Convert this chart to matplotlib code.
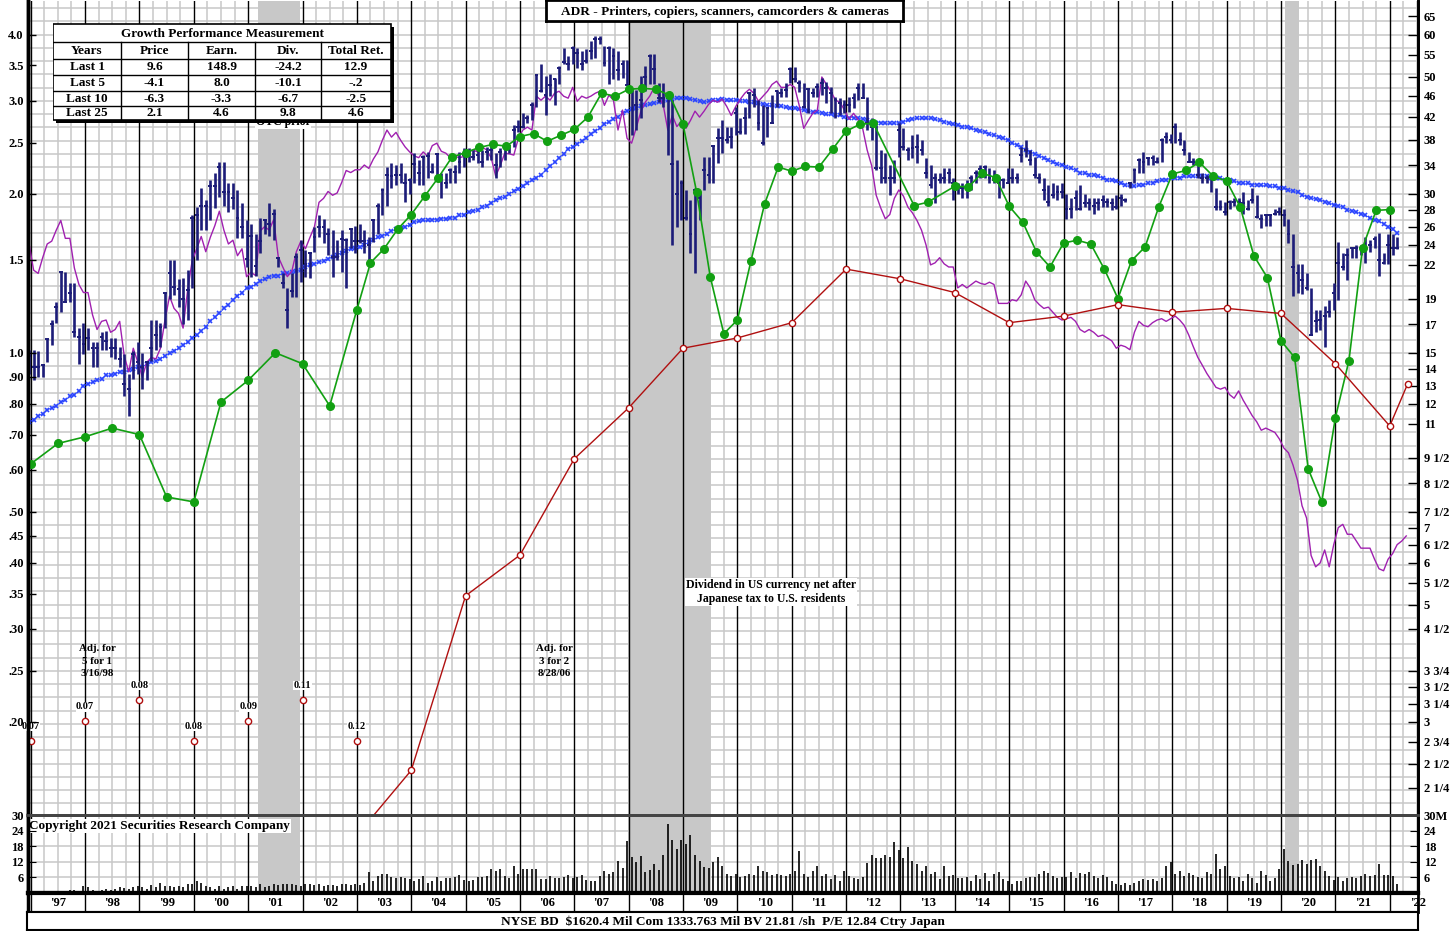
import numpy as np
import matplotlib.pyplot as plt
from matplotlib.patches import Rectangle

plt.rcParams['font.family'] = ['Liberation Serif', 'DejaVu Serif']
plt.rcParams['font.weight'] = 'bold'

# ---------------- data (monthly series start Jan 1997) ----------------
price_high = [
    15.2, 15.2, 15.1, 14.3, 15.9, 17.3, 18.7, 21.3, 21.3, 20.3, 20.3, 16.7,
    17.1, 16.7, 15.7, 15.7, 16.4, 16.5, 16.0, 16.0, 15.4, 14.9, 13.7, 15.1,
    15.7, 15.0, 14.5, 17.3, 17.3, 17.1, 19.5, 22.5, 22.5, 20.7, 20.8, 21.5,
    27.3, 28.3, 30.8, 29.2, 31.8, 32.9, 34.4, 34.4, 31.5, 31.4, 30.5, 28.8,
    26.7, 26.3, 25.2, 27.0, 26.9, 28.8, 28.1, 22.8, 21.2, 19.9, 21.2, 23.2,
    24.5, 23.5, 23.3, 25.9, 27.3, 26.9, 25.8, 25.6, 24.5, 25.6, 24.7, 25.8,
    26.1, 26.3, 25.6, 24.8, 26.9, 28.8, 30.7, 33.7, 34.3, 34.0, 34.3, 32.8,
    32.1, 35.8, 34.7, 35.5, 36.0, 34.3, 35.8, 32.9, 32.8, 33.5, 34.0, 36.0,
    36.6, 36.6, 36.3, 36.8, 36.3, 36.8, 37.1, 35.8, 36.6, 36.8, 37.1, 40.4,
    41.3, 42.6, 42.2, 44.7, 50.6, 52.9, 50.1, 50.5, 49.6, 52.3, 56.6, 54.7,
    57.1, 56.6, 56.0, 56.4, 58.4, 59.7, 59.7, 57.1, 57.1, 56.6, 56.0, 53.7,
    53.7, 47.1, 47.1, 50.1, 52.3, 55.1, 55.1, 48.6, 48.6, 45.3, 45.1, 34.7,
    31.8, 30.5, 29.2, 30.8, 30.2, 35.2, 35.2, 37.1, 39.9, 41.3, 40.1, 40.1,
    43.7, 41.8, 43.7, 46.5, 47.5, 45.1, 44.1, 43.7, 46.1, 47.1, 47.5, 48.6,
    52.1, 52.1, 49.2, 48.6, 47.5, 47.5, 48.6, 49.6, 48.8, 47.7, 45.7, 45.5,
    45.1, 45.7, 46.5, 48.6, 48.6, 45.7, 41.8, 40.4, 36.3, 35.8, 34.0, 34.7,
    40.8, 39.9, 36.8, 38.7, 39.0, 37.9, 35.1, 34.0, 32.8, 32.9, 33.5, 33.5,
    32.1, 31.4, 31.4, 31.8, 32.5, 33.2, 34.0, 34.0, 33.5, 33.2, 32.2, 32.2,
    33.5, 33.5, 32.8, 36.8, 37.9, 36.3, 35.2, 32.8, 32.2, 31.1, 31.4, 31.1,
    31.5, 30.0, 29.5, 30.5, 31.1, 30.0, 29.5, 29.5, 29.4, 29.8, 29.5, 29.4,
    29.8, 30.0, 29.5, 31.5, 33.5, 35.1, 36.0, 35.2, 35.5, 35.2, 38.2, 39.2,
    39.0, 40.8, 39.2, 37.9, 36.0, 35.1, 34.0, 32.8, 32.5, 32.5, 30.7, 29.2,
    28.9, 29.2, 29.4, 29.4, 30.2, 29.2, 30.7, 29.8, 27.5, 27.5, 27.5, 28.1,
    28.3, 28.1, 26.9, 25.2, 22.1, 22.1, 21.2, 19.9, 18.1, 18.1, 18.4, 18.9,
    20.3, 24.3, 23.2, 23.7, 23.7, 24.0, 24.0, 24.8, 24.5, 25.0, 25.3, 23.2,
    25.2, 25.2, 24.8,
]
price_low = [
    13.7, 13.3, 13.5, 13.5, 14.4, 15.5, 17.1, 17.9, 18.7, 18.7, 16.1, 14.3,
    14.9, 15.2, 14.1, 14.1, 15.2, 15.2, 14.7, 14.6, 14.1, 12.4, 11.4, 13.4,
    13.7, 12.8, 13.3, 14.5, 15.2, 15.4, 16.7, 19.0, 19.3, 18.3, 17.0, 17.3,
    19.9, 22.5, 25.6, 25.6, 26.7, 28.2, 29.6, 28.5, 27.7, 28.1, 24.7, 24.7,
    21.8, 20.9, 21.0, 23.2, 25.2, 25.0, 24.5, 21.8, 19.9, 16.7, 19.1, 19.1,
    20.4, 20.9, 20.8, 23.3, 24.8, 24.2, 23.0, 20.9, 22.5, 21.3, 19.9, 23.7,
    23.2, 24.2, 23.2, 22.5, 24.3, 25.2, 27.3, 28.5, 30.7, 31.1, 31.4, 28.9,
    30.0, 31.4, 31.1, 31.1, 32.2, 32.8, 32.2, 29.5, 30.7, 31.4, 31.5, 32.8,
    33.7, 34.4, 34.7, 34.3, 33.7, 34.7, 34.7, 32.2, 33.7, 34.7, 35.8, 36.8,
    39.2, 39.9, 40.8, 41.3, 43.7, 46.7, 42.2, 45.9, 44.1, 48.3, 52.9, 51.4,
    52.9, 51.8, 51.4, 53.1, 53.9, 54.1, 57.7, 52.3, 48.3, 49.5, 49.2, 49.6,
    48.1, 38.7, 39.6, 41.8, 46.9, 48.3, 48.4, 44.7, 43.7, 35.5, 24.0, 26.0,
    26.7, 26.7, 23.2, 21.2, 26.7, 30.5, 31.4, 31.4, 34.3, 35.8, 37.4, 36.6,
    38.7, 39.0, 39.0, 41.8, 43.7, 39.6, 37.1, 38.4, 40.9, 43.7, 45.7, 45.7,
    48.6, 48.8, 46.7, 43.6, 42.6, 45.7, 45.7, 46.1, 44.5, 42.6, 41.8, 42.2,
    42.6, 42.8, 43.6, 45.1, 45.5, 39.6, 37.9, 33.2, 31.4, 31.5, 29.8, 31.4,
    35.2, 36.3, 34.7, 35.1, 34.3, 35.5, 32.1, 30.8, 28.8, 31.4, 31.5, 31.4,
    29.2, 30.0, 29.4, 29.5, 30.5, 31.4, 32.2, 32.1, 31.4, 31.5, 29.5, 30.8,
    31.5, 31.4, 31.5, 34.4, 35.2, 34.0, 32.2, 31.5, 29.2, 28.5, 29.5, 29.2,
    29.5, 26.9, 27.0, 27.9, 27.9, 28.3, 27.9, 27.5, 27.9, 28.3, 28.3, 27.9,
    28.1, 28.5, 28.9, 30.7, 31.5, 32.9, 32.9, 34.0, 34.0, 34.3, 34.4, 37.5,
    37.4, 37.4, 37.1, 35.5, 34.4, 34.0, 32.2, 31.4, 31.4, 30.2, 27.9, 27.9,
    27.3, 28.1, 28.5, 27.9, 27.5, 27.9, 28.8, 27.0, 25.8, 26.1, 26.1, 27.3,
    27.3, 26.1, 24.2, 19.2, 19.5, 19.4, 19.7, 16.2, 16.4, 16.6, 15.4, 17.5,
    18.1, 18.9, 21.5, 20.6, 22.7, 22.7, 23.0, 22.2, 23.3, 23.7, 21.0, 22.1,
    22.1, 23.0, 23.6,
]
price_close = [
    14.8, 14.1, 14.1, 14.2, 15.9, 17.0, 18.3, 21.3, 18.7, 19.5, 16.4, 16.1,
    15.6, 16.0, 15.3, 15.3, 16.1, 15.8, 15.3, 15.3, 14.6, 13.1, 12.8, 14.9,
    14.4, 14.1, 14.4, 15.3, 16.2, 16.8, 19.5, 21.2, 20.0, 19.8, 19.0, 19.7,
    27.0, 27.3, 28.4, 28.5, 31.0, 31.0, 33.7, 30.2, 30.2, 29.5, 27.0, 25.9,
    22.6, 25.0, 21.9, 24.4, 26.7, 26.3, 27.5, 22.7, 20.3, 18.1, 19.6, 22.8,
    23.5, 22.1, 23.2, 24.8, 25.9, 25.9, 25.2, 22.8, 22.8, 24.6, 24.5, 25.7,
    24.4, 24.4, 24.4, 24.0, 26.8, 28.5, 30.5, 32.6, 32.4, 32.6, 32.6, 31.4,
    31.8, 34.2, 32.8, 35.2, 35.4, 33.0, 35.7, 32.2, 31.4, 33.2, 33.0, 34.4,
    35.5, 36.0, 35.2, 35.5, 34.4, 36.0, 36.3, 34.0, 36.0, 36.6, 36.9, 39.6,
    40.1, 40.1, 41.8, 44.1, 50.4, 46.9, 46.1, 48.1, 49.4, 51.8, 53.3, 52.9,
    56.6, 55.4, 52.9, 53.5, 56.0, 59.0, 59.0, 53.1, 56.6, 54.6, 51.4, 52.9,
    48.1, 46.7, 44.1, 45.1, 49.8, 54.6, 51.6, 45.5, 45.5, 45.5, 34.2, 30.0,
    31.5, 27.0, 25.2, 30.5, 29.5, 33.2, 32.5, 36.9, 38.2, 38.2, 37.9, 38.4,
    42.6, 39.2, 41.7, 46.5, 46.1, 40.9, 37.4, 43.6, 40.9, 46.9, 46.5, 47.1,
    51.6, 49.4, 48.6, 43.7, 47.3, 46.5, 47.7, 48.6, 47.5, 46.5, 45.1, 44.5,
    44.1, 44.1, 45.5, 47.5, 45.5, 40.9, 40.1, 33.5, 33.5, 32.1, 32.2, 32.2,
    39.6, 36.8, 36.3, 36.6, 36.8, 36.3, 32.8, 31.1, 32.1, 31.8, 32.2, 32.8,
    31.5, 31.0, 30.8, 31.0, 32.1, 32.9, 33.4, 33.7, 32.2, 31.9, 31.5, 31.8,
    31.5, 32.1, 32.1, 35.5, 36.3, 34.7, 32.5, 32.2, 30.5, 28.9, 29.8, 30.2,
    30.2, 28.1, 28.1, 29.5, 28.1, 28.8, 28.8, 28.4, 28.8, 29.2, 28.9, 28.8,
    28.3, 29.4, 29.2, 31.4, 33.2, 34.7, 34.4, 35.1, 35.1, 34.4, 37.9, 38.4,
    37.9, 40.1, 37.9, 36.3, 34.4, 34.4, 32.5, 32.2, 32.1, 32.1, 28.3, 28.3,
    27.7, 28.9, 28.9, 28.9, 28.8, 28.1, 29.2, 27.1, 26.9, 27.3, 27.3, 27.5,
    27.7, 27.3, 25.2, 21.8, 21.2, 20.6, 19.9, 16.2, 17.2, 17.3, 17.6, 17.9,
    19.5, 22.2, 21.8, 23.0, 23.7, 23.7, 23.7, 23.7, 24.0, 24.6, 22.5, 22.2,
    24.0, 23.7, 23.7,
]
moving_avg = [
    11.1, 11.2, 11.4, 11.5, 11.7, 11.8, 11.9, 12.1, 12.2, 12.4, 12.5, 12.7,
    13.0, 13.1, 13.2, 13.3, 13.4, 13.6, 13.6, 13.7, 13.8, 13.8, 13.9, 14.0,
    14.1, 14.1, 14.3, 14.4, 14.5, 14.6, 14.8, 15.0, 15.1, 15.3, 15.5, 15.7,
    16.0, 16.2, 16.5, 16.8, 17.2, 17.5, 17.8, 18.2, 18.5, 18.9, 19.2, 19.5,
    19.9, 20.0, 20.2, 20.5, 20.7, 20.9, 21.0, 21.0, 21.2, 21.2, 21.3, 21.4,
    21.5, 21.8, 22.0, 22.1, 22.3, 22.4, 22.6, 22.8, 23.0, 23.2, 23.4, 23.6,
    23.7, 23.8, 24.0, 24.3, 24.5, 24.8, 25.0, 25.2, 25.5, 25.7, 25.8, 26.0,
    26.2, 26.5, 26.6, 26.7, 26.7, 26.8, 26.8, 26.9, 26.9, 27.0, 27.0, 27.3,
    27.4, 27.7, 27.8, 28.0, 28.3, 28.5, 28.8, 29.2, 29.4, 29.6, 30.0, 30.3,
    30.6, 31.0, 31.4, 31.8, 32.2, 32.6, 33.2, 33.8, 34.4, 35.1, 35.7, 36.5,
    36.8, 37.2, 37.7, 38.2, 38.9, 39.4, 39.9, 40.6, 41.1, 41.5, 42.0, 42.6,
    43.0, 43.4, 43.6, 43.9, 44.1, 44.3, 44.5, 44.7, 44.9, 45.1, 45.3, 45.5,
    45.5, 45.5, 45.3, 45.1, 44.9, 44.7, 44.9, 45.1, 45.1, 45.3, 45.1, 45.1,
    45.1, 44.9, 44.9, 44.7, 44.7, 44.5, 44.3, 44.1, 44.1, 43.9, 43.9, 43.7,
    43.6, 43.6, 43.4, 43.2, 43.0, 42.8, 42.8, 42.6, 42.4, 42.4, 42.2, 42.2,
    42.0, 41.8, 41.8, 41.7, 41.5, 41.3, 41.1, 40.9, 40.9, 40.8, 40.8, 40.8,
    40.9, 41.1, 41.3, 41.5, 41.7, 41.7, 41.7, 41.7, 41.5, 41.3, 41.1, 40.9,
    40.6, 40.4, 40.2, 40.1, 39.9, 39.6, 39.4, 39.2, 38.9, 38.7, 38.5, 38.2,
    37.9, 37.4, 37.1, 36.8, 36.3, 36.0, 35.7, 35.4, 35.1, 34.7, 34.4, 34.1,
    34.0, 33.7, 33.5, 33.2, 32.9, 32.8, 32.6, 32.5, 32.4, 32.1, 31.9, 31.8,
    31.7, 31.4, 31.2, 31.1, 31.0, 31.1, 31.2, 31.4, 31.5, 31.7, 31.8, 31.9,
    32.1, 32.2, 32.2, 32.4, 32.4, 32.4, 32.4, 32.4, 32.4, 32.2, 32.2, 32.1,
    31.9, 31.8, 31.7, 31.5, 31.4, 31.4, 31.2, 31.2, 31.1, 31.1, 31.0, 31.0,
    30.8, 30.7, 30.5, 30.3, 30.2, 29.9, 29.6, 29.5, 29.3, 29.2, 29.0, 28.8,
    28.6, 28.5, 28.3, 28.0, 27.8, 27.7, 27.5, 27.3, 27.0, 26.8, 26.6, 26.3,
    26.0, 25.7, 25.3,
]
# relative strength, drawn in price-scale units (left scale = price / 15)
rel_strength = [
    24.1, 21.5, 21.2, 22.7, 24.1, 24.4, 25.6, 26.7, 24.7, 24.7, 21.7, 20.2,
    19.5, 19.5, 17.7, 16.6, 17.2, 17.3, 16.4, 16.6, 17.2, 14.8, 13.8, 15.3,
    14.4, 13.5, 14.4, 14.7, 14.6, 15.3, 17.3, 19.2, 18.2, 17.8, 16.7, 19.7,
    22.4, 23.6, 24.9, 23.3, 24.8, 26.1, 27.8, 25.6, 24.1, 24.5, 22.9, 23.6,
    20.9, 21.3, 21.0, 25.5, 26.0, 25.6, 26.8, 22.8, 21.8, 20.9, 21.4, 23.3,
    24.4, 23.6, 24.8, 26.0, 28.9, 29.4, 30.3, 29.8, 30.1, 31.5, 33.2, 32.9,
    33.3, 33.3, 34.0, 33.5, 34.9, 36.0, 37.9, 39.6, 38.4, 39.2, 37.9, 36.8,
    36.0, 35.4, 35.1, 36.0, 35.3, 37.0, 37.4, 36.1, 35.8, 35.1, 35.3, 35.1,
    35.3, 36.0, 36.3, 36.0, 36.8, 36.3, 35.1, 32.4, 33.9, 35.8, 35.7, 35.5,
    38.2, 39.6, 40.1, 39.6, 45.9, 45.1, 45.9, 45.1, 46.5, 46.9, 45.9, 45.5,
    47.7, 44.9, 45.9, 45.5, 45.9, 46.5, 46.9, 44.1, 46.1, 45.1, 39.6, 43.2,
    38.2, 37.4, 39.9, 42.8, 44.7, 45.9, 47.7, 45.9, 44.1, 39.6, 42.2, 40.2,
    41.2, 39.9, 41.3, 43.0, 41.9, 43.0, 44.3, 45.1, 44.7, 45.3, 43.9, 42.2,
    43.9, 45.3, 46.5, 47.3, 46.5, 44.9, 45.9, 46.9, 48.3, 49.0, 47.7, 47.7,
    48.3, 47.7, 44.1, 39.9, 41.3, 42.6, 43.2, 49.9, 48.3, 46.9, 45.1, 44.7,
    43.2, 41.5, 42.6, 41.4, 39.9, 36.3, 33.9, 29.8, 28.2, 26.9, 27.4, 29.4,
    30.5, 29.7, 28.3, 27.6, 26.7, 25.6, 24.0, 22.0, 22.2, 22.7, 22.1, 21.8,
    21.8, 19.9, 20.2, 19.9, 20.2, 20.5, 20.3, 20.2, 20.4, 20.2, 18.6, 18.6,
    18.6, 18.9, 18.8, 19.3, 20.5, 19.9, 18.9, 18.5, 18.2, 18.3, 17.9, 17.5,
    17.3, 17.4, 17.5, 17.2, 16.6, 16.4, 16.6, 16.4, 16.1, 16.2, 16.0, 15.8,
    15.3, 15.5, 15.4, 15.2, 16.4, 17.2, 16.9, 16.8, 17.1, 17.3, 17.4, 17.2,
    17.4, 17.6, 17.3, 16.9, 16.2, 15.4, 14.7, 14.2, 13.7, 13.3, 12.9, 12.8,
    12.9, 12.5, 12.3, 12.7, 12.2, 11.8, 11.4, 11.1, 10.7, 10.8, 10.7, 10.6,
    10.3, 9.9, 9.7, 9.2, 8.6, 7.7, 7.3, 6.2, 5.9, 6.0, 6.35, 5.9,
    6.5, 7.0, 7.1, 6.8, 6.8, 6.6, 6.4, 6.4, 6.4, 6.1, 5.85, 5.8,
    6.1, 6.25, 6.5, 6.6, 6.75,
]
volume_m = [
    0.6, 0.5, 0.6, 0.5, 0.7, 0.6, 0.5, 0.8, 0.6, 1.0, 1.2, 0.8,
    2.6, 2.5, 1.3, 0.9, 1.2, 1.6, 1.3, 1.7, 2.2, 2.0, 1.6, 2.2,
    2.6, 2.2, 1.7, 3.0, 2.2, 3.9, 2.6, 2.6, 2.2, 2.6, 2.2, 3.3,
    3.3, 4.6, 3.9, 2.6, 2.2, 1.7, 2.6, 1.7, 2.2, 2.6, 1.7, 2.6,
    2.6, 2.6, 2.2, 3.3, 2.2, 2.6, 3.5, 3.0, 3.3, 3.5, 3.3, 3.0,
    2.6, 3.3, 3.5, 3.0, 3.3, 2.6, 3.0, 3.0, 2.6, 3.3, 3.5, 3.0,
    3.3, 3.0, 3.9, 8.0, 4.6, 6.5, 7.2, 7.2, 6.1, 5.9, 6.1, 5.6,
    5.2, 4.6, 5.2, 6.5, 3.9, 4.8, 6.1, 4.6, 5.9, 5.6, 6.1, 6.8,
    5.0, 4.6, 5.0, 6.1, 6.1, 6.5, 9.1, 8.5, 9.1, 6.5, 5.6, 10.2,
    7.2, 9.1, 9.1, 9.4, 9.1, 5.5, 5.5, 6.5, 5.6, 5.6, 6.0, 6.8,
    5.6, 6.1, 6.8, 5.0, 4.6, 4.6, 6.5, 8.5, 7.4, 8.0, 12.4, 9.8,
    20.0, 14.0, 12.0, 14.3, 8.0, 9.0, 11.0, 9.0, 14.5, 26.7, 20.5, 17.0,
    20.5, 19.0, 22.5, 14.5, 12.4, 10.0, 9.8, 12.0, 13.7, 10.4, 7.2, 6.5,
    7.2, 6.0, 6.5, 7.2, 7.0, 10.4, 8.5, 8.2, 7.0, 7.2, 6.8, 6.5,
    7.2, 8.5, 16.3, 7.2, 6.2, 8.5, 10.4, 6.5, 7.2, 5.5, 6.8, 4.6,
    8.5, 6.5, 5.6, 5.2, 6.2, 11.5, 14.6, 13.5, 13.4, 14.5, 14.0, 19.6,
    16.6, 13.5, 17.6, 12.5, 11.0, 8.5, 10.4, 7.2, 8.0, 5.2, 10.4, 6.5,
    6.8, 5.9, 5.6, 6.2, 4.6, 6.8, 5.2, 7.8, 4.8, 7.2, 8.2, 5.2,
    4.8, 3.5, 4.8, 4.8, 5.6, 6.1, 6.1, 7.2, 8.5, 7.8, 6.5, 5.9,
    6.1, 6.1, 8.2, 5.6, 7.8, 7.2, 8.2, 6.5, 5.6, 6.8, 6.1, 4.6,
    3.3, 3.0, 3.9, 3.0, 3.9, 4.8, 5.5, 5.0, 5.5, 4.6, 5.9, 10.4,
    12.0, 7.2, 8.5, 6.5, 7.8, 6.8, 6.1, 5.6, 8.2, 7.2, 15.0, 9.1,
    10.4, 6.5, 5.6, 6.1, 4.6, 7.4, 5.6, 3.9, 8.5, 6.8, 4.6, 5.6,
    9.1, 17.0, 12.4, 10.8, 11.0, 12.6, 11.0, 12.6, 13.0, 10.4, 8.3, 6.5,
    5.0, 6.0, 4.6, 5.9, 6.1, 5.6, 6.5, 7.4, 6.5, 6.8, 11.3, 6.8,
    6.8, 6.5, 3.3,
]

earn_dates = [1997.0, 1997.5, 1998.0, 1998.5, 1999.0, 1999.5, 2000.0, 2000.5,
              2001.0, 2001.5, 2002.0, 2002.5, 2003.0, 2003.25, 2003.5, 2003.75,
              2004.0, 2004.25, 2004.5, 2004.75, 2005.0, 2005.25, 2005.5, 2005.75,
              2006.0, 2006.25, 2006.5, 2006.75, 2007.0, 2007.25, 2007.5, 2007.75,
              2008.0, 2008.25, 2008.5, 2008.75, 2009.0, 2009.25, 2009.5, 2009.75,
              2010.0, 2010.25, 2010.5, 2010.75, 2011.0, 2011.25, 2011.5, 2011.75,
              2012.0, 2012.25, 2012.5, 2013.25, 2013.5, 2014.0, 2014.25, 2014.5,
              2014.75, 2015.0, 2015.25, 2015.5, 2015.75, 2016.0, 2016.25, 2016.5,
              2016.75, 2017.0, 2017.25, 2017.5, 2017.75, 2018.0, 2018.25, 2018.5,
              2018.75, 2019.0, 2019.25, 2019.5, 2019.75, 2020.0, 2020.25, 2020.5,
              2020.75, 2021.0, 2021.25, 2021.5, 2021.75, 2022.0]
earn_vals = [9.24, 10.1, 10.4, 10.8, 10.5, 8.0, 7.83, 12.1,
             13.3, 15.0, 14.3, 11.9, 18.1, 22.2, 23.6, 25.7,
             27.4, 29.7, 32.2, 35.2, 35.9, 36.7, 37.2, 36.9,
             38.5, 39.0, 37.7, 38.7, 39.7, 41.9, 46.5, 45.9,
             47.3, 47.5, 47.3, 46.1, 40.6, 30.2, 20.9, 16.3,
             17.3, 22.4, 28.7, 33.7, 33.1, 33.8, 33.7, 36.4,
             39.4, 40.6, 40.8, 28.5, 28.9, 31.0, 30.9, 32.8,
             32.2, 28.4, 26.5, 23.3, 21.8, 24.2, 24.5, 24.1,
             21.6, 19.0, 22.4, 23.8, 28.3, 32.7, 33.2, 34.4,
             32.4, 31.7, 28.3, 22.9, 20.8, 15.8, 14.7, 9.04,
             7.83, 11.3, 14.5, 23.7, 27.9, 28.0]

div_dates = [2003.0, 2004.0, 2005.0, 2006.0, 2007.0, 2008.0, 2009.0, 2010.0,
             2011.0, 2012.0, 2013.0, 2014.0, 2015.0, 2016.0, 2017.0, 2018.0,
             2019.0, 2020.0, 2021.0, 2022.0, 2022.33]
div_vals = [1.83, 2.43, 5.20, 6.21, 9.45, 11.8, 15.3, 16.0,
            17.1, 21.6, 20.7, 19.5, 17.1, 17.6, 18.5, 17.9,
            18.2, 17.8, 14.3, 10.9, 13.1]

div_note_years = [1997, 1998, 1999, 2000, 2001, 2002, 2003]
div_note_text = ['0.07', '0.07', '0.08', '0.08', '0.09', '0.11', '0.12']

growth_cols = ['Years', 'Price', 'Earn.', 'Div.', 'Total Ret.']
growth_rows = [['Last 1', '9.6', '148.9', '-24.2', '12.9'],
               ['Last 5', '-4.1', '8.0', '-10.1', '-.2'],
               ['Last 10', '-6.3', '-3.3', '-6.7', '-2.5'],
               ['Last 25', '2.1', '4.6', '9.8', '4.6']]

right_ticks = [65, 60, 55, 50, 46, 42, 38, 34, 30, 28, 26, 24, 22, 19, 17, 15, 14,
               13, 12, 11, 9.5, 8.5, 7.5, 7, 6.5, 6, 5.5, 5, 4.5, 3.75, 3.5, 3.25,
               3, 2.75, 2.5, 2.25]
right_labels = ['65', '60', '55', '50', '46', '42', '38', '34', '30', '28', '26', '24',
                '22', '19', '17', '15', '14', '13', '12', '11', '9 1/2', '8 1/2',
                '7 1/2', '7', '6 1/2', '6', '5 1/2', '5', '4 1/2', '3 3/4', '3 1/2',
                '3 1/4', '3', '2 3/4', '2 1/2', '2 1/4']
left_ticks = [4.0, 3.5, 3.0, 2.5, 2.0, 1.5, 1.0, 0.9, 0.8, 0.7, 0.6, 0.5, 0.45,
              0.4, 0.35, 0.3, 0.25, 0.2]
left_labels = ['4.0', '3.5', '3.0', '2.5', '2.0', '1.5', '1.0', '.90', '.80', '.70',
               '.60', '.50', '.45', '.40', '.35', '.30', '.25', '.20']
vol_ticks = [6, 12, 18, 24, 30]

recessions = [(2001.18, 2001.95), (2007.98, 2009.52), (2020.08, 2020.34)]

title = 'ADR - Printers, copiers, scanners, camcorders & cameras'
footer = 'NYSE BD  $1620.4 Mil Com 1333.763 Mil BV 21.81 /sh  P/E 12.84 Ctry Japan'

# ---------------- layout ----------------
W, H = 1453, 931
X0, X1 = 1996.95, 2022.52
PLO, PHI = 2.0, 69.5
GRID = '#c8c8c8'
SHADE = '#c8c8c8'
FS = 9
BAR = '#1c1c78'


def fbox(x0, y0, x1, y1):
    # pixel box (top-left origin) -> figure fraction rect
    return [x0 / W, 1 - y1 / H, (x1 - x0) / W, (y1 - y0) / H]


fig = plt.figure(figsize=(W / 100, H / 100), dpi=100)
ax = fig.add_axes(fbox(28, 1, 1418, 815))
axv = fig.add_axes(fbox(28, 815, 1418, 893))
axd = fig.add_axes(fbox(28, 893, 1418, 912))
axb = fig.add_axes(fbox(27, 912, 1418, 930))


def month_pos(n):
    return 1996.97 + np.arange(n) / 12.0


def background(a, hlines):
    for q in np.arange(1997, 2022.6, 0.25):
        if q % 1:
            a.axvline(q, color=GRID, lw=1.1, zorder=0.5)
    for v in hlines:
        a.axhline(v, color=GRID, lw=1.1, zorder=0.5)
    for s, e in recessions:
        a.axvspan(s, e, color=SHADE, lw=0, zorder=1)
    for yr in range(1997, 2023):
        a.axvline(yr, color='black', lw=1.0, zorder=2)


# ---- price panel ----
axl = ax.twinx()          # left-hand ratio scale
ax.set_yscale('log')
ax.set_xlim(X0, X1)
ax.set_ylim(PLO, PHI)
grid_levels = [15 * 2 ** (k / 12) for k in range(-40, 30)]
background(ax, [g for g in grid_levels if PLO < g < PHI])

t_bar = month_pos(len(price_high))
ax.vlines(t_bar, price_low, price_high, color=BAR, lw=1.9, zorder=4)
ax.hlines(price_close, t_bar - 0.035, t_bar + 0.035, color=BAR, lw=1.4, zorder=4)

ax.plot(month_pos(len(moving_avg)), moving_avg, color='#2a44ff', lw=0.5,
        marker='x', ms=3.3, mew=1.2, zorder=3)
ax.plot(month_pos(len(rel_strength)), rel_strength, color='#a020b0', lw=1.0, zorder=3.5)
ax.plot(earn_dates, earn_vals, color='#12a012', lw=1.2, marker='o', ms=5.5, zorder=5)
ax.plot(div_dates, div_vals, color='#b01010', lw=1.0, marker='o', ms=4.5,
        mfc='white', mew=1.0, zorder=5)

note_levels = [2.76, 3.01, 3.30]
for k, (yr, txt) in enumerate(zip(div_note_years, div_note_text)):
    lv = note_levels[k % 3]
    ax.plot(yr, lv, marker='o', ms=4.5, mfc='white', mec='#b01010', mew=1.0, zorder=6)
    ax.text(yr, lv * 1.045, txt, ha='center', va='bottom', fontsize=7.5, zorder=6,
            bbox=dict(facecolor='white', edgecolor='none', pad=0.3))

ax.text(1998.22, 3.91, 'Adj. for\n5 for 1\n3/16/98', ha='center', va='center',
        fontsize=7.8, linespacing=1.5, zorder=6)
ax.text(2006.63, 3.91, 'Adj. for\n3 for 2\n8/28/06', ha='center', va='center',
        fontsize=7.8, linespacing=1.5, zorder=6)
ax.text(2010.62, 5.29, 'Dividend in US currency net after\nJapanese tax to U.S. residents',
        ha='center', va='center', fontsize=8.5, linespacing=1.3, zorder=6,
        bbox=dict(facecolor='white', edgecolor='none', pad=0.5))
ax.text(2001.64, 41.0, 'OTC prior', ha='center', va='center', fontsize=8.5, zorder=6,
        bbox=dict(facecolor='white', edgecolor='none', pad=0.3))

ax.yaxis.tick_right()
ax.yaxis.set_label_position('right')
ax.set_yticks(right_ticks)
ax.set_yticklabels(right_labels)
ax.yaxis.set_minor_locator(plt.NullLocator())
ax.tick_params(axis='y', which='both', left=False, labelleft=False, right=True,
               labelright=True, direction='in', length=7, width=1, labelsize=FS, pad=4)
ax.set_xticks([])

axl.set_yscale('log')
axl.set_ylim(PLO / 15, PHI / 15)
axl.yaxis.tick_left()
axl.yaxis.set_label_position('left')
axl.set_yticks(left_ticks)
axl.set_yticklabels(left_labels)
axl.yaxis.set_minor_locator(plt.NullLocator())
axl.tick_params(axis='y', which='both', right=False, labelright=False, left=True,
                labelleft=True, direction='in', length=6, width=1, labelsize=FS, pad=3)
axl.set_xticks([])
for a in (ax, axl):
    a.spines['top'].set_visible(False)
    a.spines['left'].set_linewidth(2.5)
    a.spines['right'].set_linewidth(2)
    a.spines['bottom'].set_linewidth(2)
    a.spines['bottom'].set_color('#444444')

# ---- volume panel ----
axv2 = axv.twinx()
axv.set_xlim(X0, X1)
axv.set_ylim(0, 30)
background(axv, [6, 12, 18, 24])
axv.vlines(month_pos(len(volume_m)), 0, volume_m, color='black', lw=1.2, zorder=4)
axv.text(1996.97, 25.8, 'Copyright 2021 Securities Research Company', ha='left',
         va='center', fontsize=9.5, zorder=6,
         bbox=dict(facecolor='white', edgecolor='none', pad=0.5))
axv.set_xticks([])
axv.yaxis.tick_right()
axv.set_yticks(vol_ticks)
axv.set_yticklabels(['6', '12', '18', '24', '30M'])
axv.tick_params(axis='y', left=False, labelleft=False, right=True, labelright=True,
                direction='in', length=6, labelsize=FS, pad=4)
axv2.set_ylim(0, 30)
axv2.yaxis.tick_left()
axv2.set_yticks(vol_ticks)
axv2.set_yticklabels([str(v) for v in vol_ticks])
axv2.tick_params(axis='y', right=False, labelright=False, left=True, labelleft=True,
                 direction='in', length=6, labelsize=FS, pad=3)
axv2.set_xticks([])
for a in (axv, axv2):
    a.spines['top'].set_linewidth(2)
    a.spines['top'].set_color('#444444')
    a.spines['bottom'].set_linewidth(3)
    a.spines['left'].set_linewidth(2.5)
    a.spines['right'].set_linewidth(2)

# ---- date row ----
axd.set_xlim(X0, X1)
axd.set_ylim(0, 1)
axd.set_xticks([])
axd.set_yticks([])
for yr in range(1997, 2023):
    axd.axvline(yr, color='black', lw=1)
for yr in range(1997, 2022):
    axd.text(yr + 0.5, 0.45, "'%02d" % (yr % 100), ha='center', va='center', fontsize=FS)
axd.text(X1, 0.45, "'22", ha='center', va='center', fontsize=FS, clip_on=False)
axd.spines['top'].set_visible(False)
axd.spines['left'].set_linewidth(2.5)
axd.spines['right'].set_linewidth(2)
axd.spines['bottom'].set_linewidth(1.5)

# ---- footer box ----
axb.set_xticks([])
axb.set_yticks([])
for s in axb.spines.values():
    s.set_linewidth(1.5)
axb.text(0.5, 0.45, footer, ha='center', va='center', fontsize=9.6, transform=axb.transAxes)

# ---- title box ----
axt = fig.add_axes(fbox(546, 0, 903, 21))
axt.set_xticks([])
axt.set_yticks([])
for s in axt.spines.values():
    s.set_linewidth(2)
axt.text(0.5, 0.45, title, ha='center', va='center', fontsize=9.5, transform=axt.transAxes)

# ---- growth table ----
axg = fig.add_axes(fbox(53, 23, 396, 125))
axg.set_xlim(53, 396)
axg.set_ylim(125, 23)
axg.axis('off')
axg.add_patch(Rectangle((56, 27), 338, 96, facecolor='black', edgecolor='none'))
axg.add_patch(Rectangle((53, 24), 338, 96, facecolor='white', edgecolor='black', lw=1.2))
col_edges = [53, 121, 188, 255, 321, 391]
row_edges = [42, 59, 75, 91, 106, 120]
for yb in row_edges[:-1]:
    axg.plot([53, 391], [yb, yb], color='black', lw=1)
for xe in col_edges[1:-1]:
    axg.plot([xe, xe], [42, 120], color='black', lw=1)
axg.text(222, 33.5, 'Growth Performance Measurement', ha='center', va='center', fontsize=9.5)
centers = [(a + b) / 2 for a, b in zip(col_edges[:-1], col_edges[1:])]
for cx, lab in zip(centers, growth_cols):
    axg.text(cx, 51, lab, ha='center', va='center', fontsize=9.5)
for r, row in enumerate(growth_rows):
    cy = (row_edges[r + 1] + row_edges[r + 2]) / 2
    for cx, val in zip(centers, row):
        axg.text(cx, cy, val, ha='center', va='center', fontsize=9.5)

fig.savefig('out.png', dpi=100)
